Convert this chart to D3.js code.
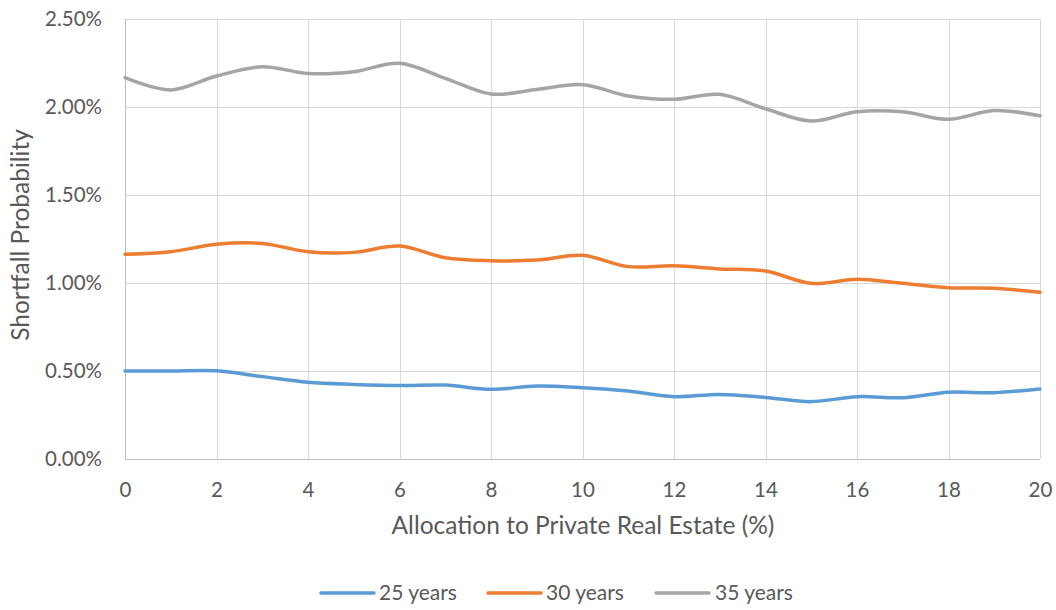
<!DOCTYPE html>
<html>
<head>
<meta charset="utf-8">
<script src="https://cdn.jsdelivr.net/npm/d3@7"></script>
<style>
  html, body { margin: 0; padding: 0; background: #fff; }
  svg { display: block; }
  text { font-family: Lato, "Open Sans", sans-serif; fill: #595959; }
</style>
</head>
<body>
<svg id="chart" width="1056" height="610"></svg>
<script>
// Allocation to private real estate, in percent
const allocation = [0, 1, 2, 3, 4, 5, 6, 7, 8, 9, 10, 11, 12, 13, 14, 15, 16, 17, 18, 19, 20];

// Shortfall probability (%) for each horizon
const years25 = [0.500, 0.500, 0.501, 0.468, 0.436, 0.424, 0.417, 0.420, 0.396, 0.415, 0.405,
                 0.386, 0.354, 0.367, 0.350, 0.326, 0.354, 0.348, 0.379, 0.377, 0.398];
const years30 = [1.163, 1.178, 1.220, 1.225, 1.178, 1.174, 1.210, 1.144, 1.127, 1.130, 1.157,
                 1.093, 1.098, 1.080, 1.068, 0.998, 1.021, 0.998, 0.973, 0.970, 0.947];
const years35 = [2.167, 2.097, 2.176, 2.229, 2.190, 2.200, 2.248, 2.163, 2.074, 2.100, 2.127,
                 2.063, 2.044, 2.072, 1.990, 1.920, 1.973, 1.973, 1.930, 1.980, 1.950];

const seriesNames = ["25 years", "30 years", "35 years"];
const seriesColors = ["#5B9BD5", "#ED7D31", "#A5A5A5"];

const xTicks = [0, 2, 4, 6, 8, 10, 12, 14, 16, 18, 20];
const yTicks = [0, 0.5, 1.0, 1.5, 2.0, 2.5];

const xTitle = "Allocation to Private Real Estate (%)";
const yTitle = "Shortfall Probability";

const svg = d3.select("#chart");
const plot = { left: 125, right: 1040, top: 19, bottom: 459 };

const x = d3.scaleLinear().domain([0, 20]).range([plot.left, plot.right]);
const y = d3.scaleLinear().domain([0, 2.5]).range([plot.bottom, plot.top]);

// Gridlines
const grid = svg.append("g");
grid.selectAll("line.h").data(yTicks.slice(1)).join("line")
  .attr("x1", plot.left).attr("x2", plot.right)
  .attr("y1", d => y(d) + 0.5).attr("y2", d => y(d) + 0.5)
  .attr("stroke", "#D9D9D9").attr("stroke-width", 1);
grid.selectAll("line.v").data(xTicks.slice(1)).join("line")
  .attr("x1", d => Math.round(x(d)) + 0.5).attr("x2", d => Math.round(x(d)) + 0.5)
  .attr("y1", plot.top).attr("y2", plot.bottom)
  .attr("stroke", "#D9D9D9").attr("stroke-width", 1);

// Axis lines
svg.append("line")
  .attr("x1", plot.left + 0.5).attr("x2", plot.left + 0.5)
  .attr("y1", plot.top).attr("y2", plot.bottom + 0.5)
  .attr("stroke", "#BFBFBF").attr("stroke-width", 1);
svg.append("line")
  .attr("x1", plot.left).attr("x2", plot.right)
  .attr("y1", plot.bottom + 0.5).attr("y2", plot.bottom + 0.5)
  .attr("stroke", "#BFBFBF").attr("stroke-width", 1);

// Y tick labels
const yAxis = d3.axisLeft(y).tickValues(yTicks).tickSize(0).tickPadding(23)
  .tickFormat(d => d.toFixed(2) + "%");
const gy = svg.append("g").attr("transform", `translate(${plot.left},0)`).call(yAxis);
gy.select(".domain").remove();
gy.selectAll("text").attr("font-size", 20.5).attr("fill", "#595959")
  .attr("font-family", "Lato, 'Open Sans', sans-serif");

// X tick labels
const xAxis = d3.axisBottom(x).tickValues(xTicks).tickSize(0).tickPadding(23);
const gx = svg.append("g").attr("transform", `translate(0,${plot.bottom})`).call(xAxis);
gx.select(".domain").remove();
gx.selectAll("text").attr("font-size", 20.5).attr("fill", "#595959")
  .attr("font-family", "Lato, 'Open Sans', sans-serif");

// Axis titles
svg.append("text")
  .attr("x", 583).attr("y", 534)
  .attr("text-anchor", "middle").attr("font-size", 24.5)
  .text(xTitle);
svg.append("text")
  .attr("transform", `translate(29,235) rotate(-90)`)
  .attr("text-anchor", "middle").attr("font-size", 24.5)
  .text(yTitle);

// Series lines, smoothed
const line = d3.line()
  .x((d, i) => x(allocation[i]))
  .y(d => y(d))
  .curve(d3.curveCardinal.tension(0));

const allSeries = [years25, years30, years35];
svg.append("g").selectAll("path").data(allSeries).join("path")
  .attr("d", line)
  .attr("fill", "none")
  .attr("stroke", (d, i) => seriesColors[i])
  .attr("stroke-width", 3.5)
  .attr("stroke-linecap", "round")
  .attr("stroke-linejoin", "round");

// Legend
const legendItems = [
  { x: 321, textX: 379 },
  { x: 488, textX: 546 },
  { x: 656, textX: 715 }
];
const legend = svg.append("g");
legendItems.forEach((p, i) => {
  legend.append("line")
    .attr("x1", p.x).attr("x2", p.x + 53)
    .attr("y1", 593).attr("y2", 593)
    .attr("stroke", seriesColors[i]).attr("stroke-width", 3.5)
    .attr("stroke-linecap", "round");
  legend.append("text")
    .attr("x", p.textX).attr("y", 600)
    .attr("font-size", 21)
    .text(seriesNames[i]);
});
</script>
</body>
</html>
